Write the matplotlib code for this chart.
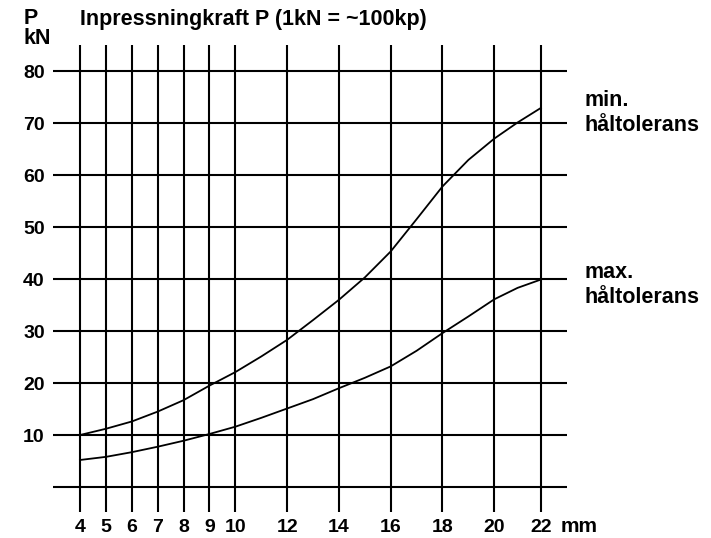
import numpy as np
import matplotlib
matplotlib.use("Agg")
import matplotlib.pyplot as plt

plt.rcParams['font.family'] = ['Liberation Sans', 'DejaVu Sans']
plt.rcParams['font.weight'] = 'bold'

# Hole diameter (mm) and press force P (kN)
diam = [4, 5, 6, 7, 8, 9, 10, 11, 12, 13, 14, 15, 16, 17, 18, 19, 20, 21, 22]
p_min_tol = [10, 11.2, 12.6, 14.5, 16.7, 19.5, 22.1, 25.1, 28.3, 32.1, 36.0,
             40.3, 45.3, 51.5, 57.8, 62.9, 67.0, 70.1, 72.9]
p_max_tol = [5.2, 5.8, 6.7, 7.75, 8.9, 10.2, 11.6, 13.3, 15.1, 16.9, 19.0,
             21.0, 23.2, 26.2, 29.6, 32.8, 36.1, 38.3, 39.9]

x_ticks = [4, 5, 6, 7, 8, 9, 10, 12, 14, 16, 18, 20, 22]
y_grid = [0, 10, 20, 30, 40, 50, 60, 70, 80]
y_labels = ['', '10', '20', '30', '40', '50', '60', '70', '80']


# the last interval (20-22) is drawn a bit narrower in the original
def fwd(x):
    x = np.asarray(x, dtype=float)
    return np.where(x <= 20, x, 20 + (x - 20) * 0.9)


def inv(u):
    u = np.asarray(u, dtype=float)
    return np.where(u <= 20, u, 20 + (u - 20) / 0.9)


W, H = 711, 538
fig = plt.figure(figsize=(W / 100, H / 100), dpi=100)
ax = fig.add_axes([53 / W, 1 - 512 / H, (567 - 53) / W, (512 - 45) / H])
ax.set_xscale('function', functions=(fwd, inv))

x0, x1 = 2.96, 23.12
y0, y1 = -4.8, 85.0
ax.set_xlim(x0, x1)
ax.set_ylim(y0, y1)

ax.hlines(y_grid, x0, x1, colors='black', lw=1.5)
ax.vlines(x_ticks, y0, y1, colors='black', lw=1.5)

ax.plot(diam, p_min_tol, color='black', lw=1.3)
ax.plot(diam, p_max_tol, color='black', lw=1.3)

for s in ax.spines.values():
    s.set_visible(False)
ax.set_xticks(x_ticks)
ax.set_xticklabels([str(t) for t in x_ticks])
ax.set_yticks(y_grid)
ax.set_yticklabels(y_labels)
ax.xaxis.set_minor_locator(matplotlib.ticker.NullLocator())
ax.tick_params(axis='both', length=0, labelsize=14)
ax.tick_params(axis='x', pad=5)
ax.tick_params(axis='y', pad=6)

fs = 15.5
fig.text(24 / W, 1 - 19 / H, 'P', fontsize=fs, fontweight='bold', va='center')
fig.text(24 / W, 1 - 38 / H, 'kN', fontsize=fs, fontweight='bold', va='center')
fig.text(80 / W, 1 - 20 / H, 'Inpressningkraft P (1kN = ~100kp)', fontsize=fs,
         fontweight='bold', va='center')
fig.text(561 / W, 1 - 526 / H, 'mm', fontsize=15, fontweight='bold', va='center')
fig.text(584 / W, 1 - 113 / H, 'min.\nhåltolerans', fontsize=fs,
         fontweight='bold', va='center', linespacing=1.2)
fig.text(584 / W, 1 - 285 / H, 'max.\nhåltolerans', fontsize=fs,
         fontweight='bold', va='center', linespacing=1.2)

fig.savefig('out.png', dpi=100)
